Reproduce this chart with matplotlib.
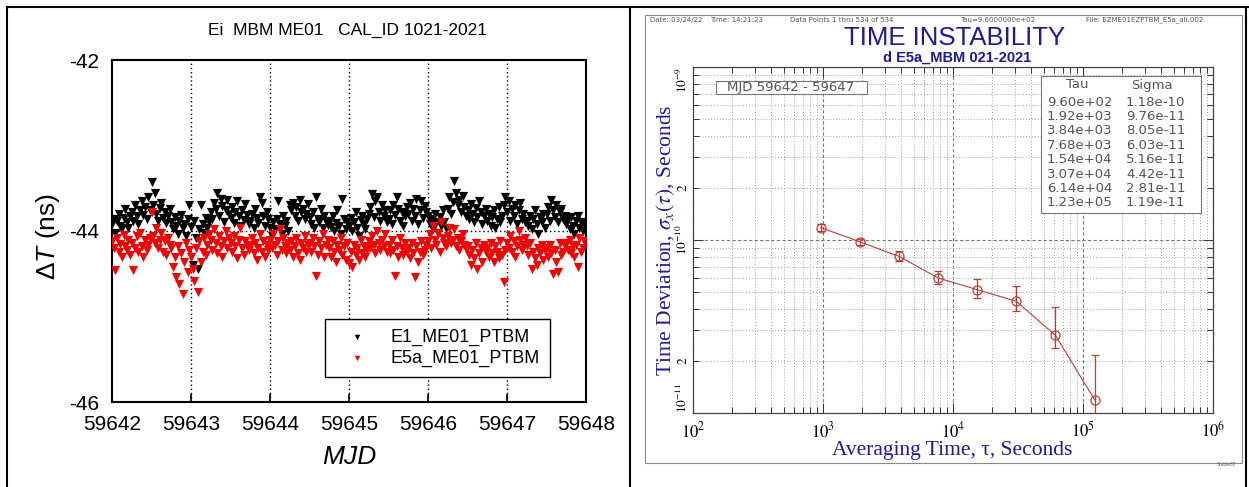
import matplotlib
matplotlib.use('Agg')
import matplotlib.pyplot as plt
import numpy as np
from matplotlib.lines import Line2D
from matplotlib.patches import Rectangle
from matplotlib.ticker import NullFormatter

W, H = 1249, 487

# left chart: dT offsets from -44 ns in units of 10 ps, one sample every 30 min from MJD 59642
MJD_START = 59642.0
SAMPLES_PER_DAY = 48
MJD_TICKS = [59642, 59643, 59644, 59645, 59646, 59647, 59648]
E1_OFFSET = [
    8, 14, -2, 12, 20, 6, 3, 15, 26, 10, 4, 18,
    22, 12, 30, 17, 8, 25, 35, 19, 28, 14, 40, 24,
    57, 30, 44, 20, 12, 27, 33, 15, 22, 9, 18, 26,
    10, 2, 16, 6, -4, 12, 19, 3, 8, -6, 14, 30,
    5, -40, 12, -8, -45, 2, 30, 8, -2, 15, 4, 10,
    22, 14, 33, 26, 45, 18, 38, 29, 11, 24, 36, 20,
    15, 28, 9, 22, 35, 17, 6, 25, 13, 31, 19, 8,
    12, 20, 4, 26, 15, 9, 40, 33, 18, 6, 22, 14,
    4, -6, 10, 2, 14, 35, 8, -3, 18, 6, 12, 0,
    30, 24, 33, 18, 28, 12, 36, 22, 26, 14, 20, 31,
    16, 8, 22, 4, 40, 14, 10, 26, 3, 18, 12, 7,
    12, 5, 18, 0, 9, 24, 6, -4, 38, 14, 2, 10,
    6, 15, 0, 11, 22, 4, -6, 13, 18, 8, 2, 14,
    20, 28, 43, 16, 35, 40, 22, 12, 30, 18, 25, 10,
    14, 24, 8, 30, 19, 40, 26, 12, 22, 6, 17, 28,
    20, 33, 12, 26, 18, 37, 8, 24, 35, 15, 29, 22,
    18, 8, 14, 2, 20, 10, -2, 16, 6, 24, 11, 4,
    26, 40, 20, 34, 59, 45, 30, 36, 22, 41, 28, 18,
    24, 14, 32, 20, 10, 27, 16, 35, 22, 8, 18, 26,
    12, 20, 6, 16, 24, 4, 14, 28, 10, 18, 30, 40,
    22, 35, 12, 26, 18, 30, 8, 24, 33, 14, 20, 10,
    12, 6, 18, 2, 14, 24, 8, -4, 16, 10, 20, 4,
    20, 28, 12, 36, 24, 16, 30, 10, 22, 26, 14, 18,
    8, 14, 2, 16, 6, -4, 12, 18, 4, 10, 0, 8,
]
E5A_OFFSET = [
    -12, -20, -46, -8, -25, -15, -30, -5, -18, -22, -10, -28,
    -14, -46, -20, -6, -24, -2, -18, -30, -10, -22, -16, -8,
    22, -6, -14, 4, -20, -10, -2, -24, -12, -28, -8, -16,
    -20, -42, -30, -54, -18, -62, -26, -74, -36, -14, -48, -22,
    -30, -45, -58, -20, -71, -12, -36, -24, -8, -28, -16, -4,
    -10, -22, 2, -14, -26, -6, -18, -30, -12, 0, -20, -8,
    -14, -24, -6, -18, -32, -10, 4, -20, -28, -12, -16, -22,
    -18, -8, -26, -14, -34, -20, -4, -24, -12, -30, -16, -22,
    -10, -20, -4, -16, -28, -12, 2, -22, -8, -18, -26, -14,
    -22, -12, -30, -18, -8, -26, -34, -14, -20, -6, -24, -16,
    -14, -24, -8, -18, -53, -28, -12, -20, -4, -30, -16, -10,
    -20, -30, -12, -24, -36, -16, -22, -8, -28, -18, -34, -14,
    -38, -24, -42, -16, -28, -20, -34, -10, -26, -18, -30, -22,
    -12, -20, -6, -16, -26, 0, -14, -22, -10, -18, -4, -24,
    -16, -26, -10, -22, -53, -18, -30, -8, -20, -28, -14, -24,
    -20, -32, -14, -26, -54, -18, -36, -24, -12, -28, -22, -16,
    -12, -4, -20, 6, -10, -16, -2, -24, 10, -8, -14, -18,
    -6, 4, -14, -10, 2, -18, -8, -22, -12, -4, -16, -20,
    -18, -28, -40, -22, -32, -14, -45, -26, -20, -36, -16, -24,
    -20, -30, -14, -26, -36, -18, -24, -32, -12, -28, -60, -22,
    -14, -20, -6, -24, -12, -30, -18, 0, -10, -22, -16, -8,
    -18, -28, -14, -45, -24, -32, -40, -20, -26, -16, -34, -22,
    -20, -30, -16, -26, -50, -22, -36, -48, -14, -28, -24, -18,
    -14, -22, -10, -26, -18, -30, -16, -42, -8, -24, -20, -12,
]

# right chart: Stable32 time deviation table
TAU = [9.60e+02, 1.92e+03, 3.84e+03, 7.68e+03, 1.54e+04, 3.07e+04, 6.14e+04, 1.23e+05]
SIGMA = [1.18e-10, 9.76e-11, 8.05e-11, 6.03e-11, 5.16e-11, 4.42e-11, 2.81e-11, 1.19e-11]
SIGMA_LO = [1.12e-10, 9.40e-11, 7.60e-11, 5.55e-11, 4.60e-11, 3.89e-11, 2.38e-11, 5.0e-12]
SIGMA_HI = [1.24e-10, 1.01e-10, 8.60e-11, 6.62e-11, 5.93e-11, 5.44e-11, 4.10e-11, 2.16e-11]

NAVY = '#1c1c8f'
GREYTXT = '#555555'
DOTS = (0, (1, 2))

plt.rcParams['font.family'] = ['Liberation Sans', 'DejaVu Sans']
plt.rcParams['axes.unicode_minus'] = False
plt.rcParams['mathtext.fontset'] = 'stix'
plt.rcParams['mathtext.rm'] = 'Liberation Sans'
plt.rcParams['mathtext.it'] = 'Liberation Sans:italic'


def fx(x):
    return x / W


def fy(y):
    return 1 - y / H


fig = plt.figure(figsize=(W / 100, H / 100), dpi=100)

# table borders
for (x0, y0, x1, y1) in [(7, 7, 1249, 7), (7, 7, 7, 487), (630, 7, 630, 487), (1246, 7, 1246, 487)]:
    fig.add_artist(Line2D([fx(x0), fx(x1)], [fy(y0), fy(y1)], transform=fig.transFigure,
                          color='black', lw=1.5))

# ---------------- left chart ----------------
ax = fig.add_axes([fx(112), fy(402), (586 - 112) / W, (402 - 60) / H])
mjd = MJD_START + np.arange(len(E1_OFFSET)) / SAMPLES_PER_DAY
e1 = -44 + np.array(E1_OFFSET) / 100
e5a = -44 + np.array(E5A_OFFSET) / 100
ax.scatter(mjd, e1, marker='v', s=44, c='black', linewidths=0, label='E1_ME01_PTBM', zorder=3)
ax.scatter(mjd, e5a, marker='v', s=44, c='#f00000', linewidths=0, label='E5a_ME01_PTBM', zorder=3)

ax.set_xlim(MJD_TICKS[0], MJD_TICKS[-1])
ax.set_ylim(-46, -42)
ax.set_xticks(MJD_TICKS, labels=[str(m) for m in MJD_TICKS])
ax.set_yticks([-46, -44, -42], labels=['-46', '-44', '-42'])
ax.tick_params(direction='in', length=6, width=1.2, labelsize=15, pad=9)
for x in MJD_TICKS[1:-1]:
    ax.axvline(x, color='black', lw=1, ls=DOTS, zorder=1)
ax.axhline(-44, color='black', lw=1, ls=DOTS, zorder=1)
for sp in ax.spines.values():
    sp.set_linewidth(1.5)

leg = ax.legend(loc='lower left', bbox_to_anchor=(0.449, 0.073), borderaxespad=0,
                fancybox=False, edgecolor='black', framealpha=1, fontsize=13,
                markerscale=0.6, handlelength=2.5, handletextpad=0.6,
                borderpad=0.55, labelspacing=0.2)
leg.get_frame().set_linewidth(1.0)

fig.text(fx(347), fy(30), 'Ei  MBM ME01   CAL_ID 1021-2021', ha='center', va='center', fontsize=12.5)
fig.text(fx(48), fy(237), r'Δ$\mathit{T}$ (ns)', rotation=90, ha='center', va='center',
         fontsize=19, math_fontfamily='custom')
fig.text(fx(349), fy(457), 'MJD', style='italic', ha='center', va='center', fontsize=19)

# ---------------- right chart ----------------
fig.add_artist(Rectangle((fx(645), fy(463)), (1242 - 645) / W, (463 - 15) / H,
                         transform=fig.transFigure, fill=False, ec='#8a8a8a', lw=0.8))

ax2 = fig.add_axes([fx(693), fy(413), 520 / W, 346 / H])
ax2.set_xscale('log')
ax2.set_yscale('log')
ax2.set_xlim(1e2, 1e6)
ax2.set_ylim(1e-11, 1e-9)

sig = np.array(SIGMA)
yerr = [sig - np.array(SIGMA_LO), np.array(SIGMA_HI) - sig]
ax2.errorbar(TAU, SIGMA, yerr=yerr, color='#b8403c', lw=0.8, marker='o', mfc='none',
             ms=6.5, mew=0.9, capsize=3, elinewidth=0.9, capthick=0.9, zorder=3)

ax2.set_xticks([1e2, 1e3, 1e4, 1e5, 1e6],
               labels=[r'$10^{2}$', r'$10^{3}$', r'$10^{4}$', r'$10^{5}$', r'$10^{6}$'])
ax2.xaxis.set_minor_formatter(NullFormatter())
ax2.set_yticks([1e-11, 1e-10, 1e-9], labels=[r'$10^{-11}$', r'$10^{-10}$', r'$10^{-9}$'])
minor_pos, minor_lab = [], []
for dec in [1e-11, 1e-10]:
    for k in range(2, 10):
        minor_pos.append(k * dec)
        minor_lab.append(r'$2$' if k == 2 else '')
ax2.set_yticks(minor_pos, labels=minor_lab, minor=True)

ax2.tick_params(which='both', direction='in', top=True, right=True, width=0.7, colors='#333333',
                labelcolor='black')
ax2.tick_params(which='major', length=7)
ax2.tick_params(which='minor', length=4)
ax2.tick_params(axis='x', labelsize=12, pad=5)
ax2.tick_params(axis='y', which='both', labelsize=9.5, labelrotation=90, pad=2)
for lbl in ax2.get_yticklabels(which='both'):
    lbl.set_va('center')
# keep the end labels inside the axis span, as Stable32 does
ylabels = ax2.get_yticklabels()
ylabels[0].set_va('bottom')
ylabels[-1].set_va('top')

ax2.grid(which='minor', color='#a0a0a0', ls=DOTS, lw=0.7)
ax2.grid(which='major', color='#7a7a7a', ls=(0, (3, 2)), lw=0.8)
for sp in ax2.spines.values():
    sp.set_linewidth(0.9)
    sp.set_color('#444444')

# header line
for x, s in [(650, 'Date: 03/24/22'), (710, 'Time: 14:21:23'), (790, 'Data Points 1 thru 534 of 534'),
             (960, 'Tau=9.6000000e+02'), (1086, 'File: EZME01EZPTBM_E5a_all.002')]:
    fig.text(fx(x), fy(20), s, ha='left', va='center', fontsize=5, color=GREYTXT,
             family='DejaVu Sans')

fig.text(fx(955), fy(38), 'TIME INSTABILITY', ha='center', va='center', fontsize=18.5, color=NAVY)
fig.text(fx(957), fy(58), 'd E5a_MBM 021-2021', ha='center', va='center', fontsize=10.5,
         fontweight='bold', color=NAVY)
fig.text(fx(666), fy(240), r'Time Deviation, $\sigma_x(\tau)$, Seconds', rotation=90, ha='center',
         va='center', fontsize=15.5, color=NAVY, family='Liberation Serif')
fig.text(fx(952), fy(450), 'Averaging Time, τ, Seconds', ha='center', va='center', fontsize=15.5,
         color=NAVY, family='Liberation Serif')

# MJD range box
fig.add_artist(Rectangle((fx(716), fy(94)), (867 - 716) / W, (94 - 81) / H,
                         transform=fig.transFigure, fc='white', ec='#777777', lw=0.8))
fig.text(fx(791), fy(87.5), 'MJD 59642 - 59647', ha='center', va='center', fontsize=9.5,
         color=GREYTXT, family='DejaVu Sans')

# Tau / Sigma table
fig.add_artist(Rectangle((fx(1041), fy(213)), (1201 - 1041) / W, (213 - 76) / H,
                         transform=fig.transFigure, fc='white', ec='#777777', lw=0.8))
fig.text(fx(1077), fy(85), 'Tau', ha='center', va='center', fontsize=9.5, color=GREYTXT,
         family='DejaVu Sans')
fig.text(fx(1152), fy(85), 'Sigma', ha='center', va='center', fontsize=9.5, color=GREYTXT,
         family='DejaVu Sans')
for i, (t, s) in enumerate(zip(TAU, SIGMA)):
    y = 102 + 14.4 * i
    fig.text(fx(1047), fy(y), f'{t:.2e}', ha='left', va='center', fontsize=9.5, color=GREYTXT,
             family='DejaVu Sans')
    fig.text(fx(1126), fy(y), f'{s:.2e}', ha='left', va='center', fontsize=9.5, color=GREYTXT,
             family='DejaVu Sans')

fig.text(fx(1226), fy(465), 'Stable32', ha='center', va='center', fontsize=3.5, color='#666666')

fig.savefig('out.png', dpi=100)
